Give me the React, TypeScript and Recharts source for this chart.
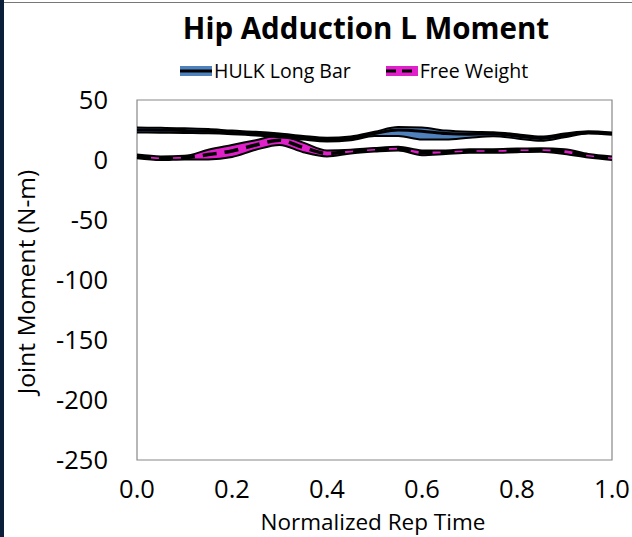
import React from 'react';
import { ComposedChart, Area, Line, XAxis, YAxis, ReferenceArea } from 'recharts';

const timePoints = [0, 0.05, 0.1, 0.15, 0.2, 0.25, 0.3, 0.35, 0.4, 0.45, 0.5, 0.55, 0.6, 0.65, 0.7, 0.75, 0.8, 0.85, 0.9, 0.95, 1.0];

const hulkMean = [25, 24.8, 24.5, 24, 23, 22, 20.5, 18.5, 17, 18, 22, 25, 24, 22, 21.5, 21.7, 20, 18, 20.5, 23, 22];
const hulkUpSpread = [2, 2, 2, 1.8, 1.5, 1.5, 1.5, 1.5, 1.5, 1.5, 1.5, 2.5, 3, 2.5, 2, 1.5, 1.5, 1.5, 1.5, 1, 1];
const hulkLowSpread = [2, 2, 2, 1.8, 1.5, 1.5, 1.5, 1.5, 1.5, 1.5, 2, 5, 7, 5, 3, 2, 2, 2, 1.5, 1, 1];

const freeMean = [3, 1.5, 2, 4.5, 7.5, 12.5, 16.5, 10.5, 5.5, 7, 8.5, 9.5, 6, 6.5, 7.5, 7.5, 8, 8.3, 7, 3.5, 1.5];
const freeSpread = [1.5, 1.5, 1.5, 4, 5, 4, 4, 4, 2.5, 1.5, 1.5, 1.5, 2, 1.5, 1.5, 1.5, 1.5, 1.5, 2, 1.5, 1.5];

const xTicks = [0, 0.2, 0.4, 0.6, 0.8, 1.0];
const yTicks = [50, 0, -50, -100, -150, -200, -250];

const TITLE = 'Hip Adduction L Moment';
const SERIES_HULK = 'HULK Long Bar';
const SERIES_FREE = 'Free Weight';
const X_LABEL = 'Normalized Rep Time';
const Y_LABEL = 'Joint Moment (N-m)';

const data = timePoints.map((t, i) => ({
  t,
  hMean: hulkMean[i],
  hUp: hulkMean[i] + hulkUpSpread[i],
  hLo: hulkMean[i] - hulkLowSpread[i],
  hRange: [hulkMean[i] - hulkLowSpread[i], hulkMean[i] + hulkUpSpread[i]],
  fMean: freeMean[i],
  fUp: freeMean[i] + freeSpread[i],
  fLo: freeMean[i] - freeSpread[i],
  fRange: [freeMean[i] - freeSpread[i], freeMean[i] + freeSpread[i]],
}));

const FONT = '"Open Sans", "Liberation Sans", sans-serif';
const BLUE = '#4f81bd';
const MAGENTA = '#e020c8';

export default function App() {
  return (
    <div style={{ position: 'absolute', left: 0, top: 0, width: 632, height: 537, background: '#fff', overflow: 'hidden', fontFamily: FONT }}>
      <div style={{ position: 'absolute', left: 0, top: 0, width: 4, height: 537, background: '#0b1f3a' }} />
      <div style={{ position: 'absolute', left: 4, top: 2, width: 628, height: 1, background: '#777' }} />
      <div style={{ position: 'absolute', left: 0, top: 8, width: 732, textAlign: 'center', fontSize: 29.5, fontWeight: 700, color: '#000', lineHeight: '40px' }}>
        {TITLE}
      </div>
      <div style={{ position: 'absolute', left: 180, top: 58, display: 'flex', alignItems: 'center', fontSize: 19.5, color: '#000', lineHeight: '26px' }}>
        <svg width={32} height={12} style={{ marginRight: 2 }}>
          <rect x={0} y={1} width={32} height={10} fill={BLUE} />
          <line x1={0} y1={6} x2={32} y2={6} stroke="#000" strokeWidth={3} />
        </svg>
        <span>{SERIES_HULK}</span>
        <svg width={32} height={12} style={{ marginLeft: 35, marginRight: 2 }}>
          <rect x={0} y={1} width={32} height={10} fill={MAGENTA} />
          <line x1={0} y1={6} x2={32} y2={6} stroke="#000" strokeWidth={3} strokeDasharray="10 6" />
        </svg>
        <span>{SERIES_FREE}</span>
      </div>
      <div style={{ position: 'absolute', left: 26, top: 282, width: 0, height: 0 }}>
        <div style={{ position: 'absolute', left: 0, top: 0, transform: 'translate(-50%, -50%) rotate(-90deg)', whiteSpace: 'nowrap', fontSize: 24.5, color: '#000', lineHeight: '30px' }}>
          {Y_LABEL}
        </div>
      </div>
      <div style={{ position: 'absolute', left: 0, top: 507, width: 746, textAlign: 'center', fontSize: 22.5, color: '#000', lineHeight: '30px' }}>
        {X_LABEL}
      </div>
      <div style={{ position: 'absolute', left: 0, top: 0 }}>
        <ComposedChart width={632} height={537} data={data} margin={{ top: 100, right: 20, bottom: 0, left: 0 }}>
          <XAxis
            xAxisId="x"
            dataKey="t"
            type="number"
            domain={[0, 1]}
            ticks={xTicks}
            tickFormatter={(v: number) => v.toFixed(1)}
            axisLine={false}
            tickLine={false}
            tickSize={0}
            tickMargin={20}
            height={77}
            tick={{ fontSize: 25.5, fill: '#000', fontFamily: FONT }}
            interval={0}
          />
          <YAxis
            yAxisId="y"
            type="number"
            domain={[-250, 50]}
            ticks={yTicks}
            axisLine={false}
            tickLine={false}
            tickSize={0}
            tickMargin={29}
            width={137}
            tick={{ fontSize: 25.5, fill: '#000', fontFamily: FONT }}
            interval={0}
          />
          <YAxis
            yAxisId="m"
            type="number"
            domain={[-250, 50]}
            ticks={yTicks}
            mirror
            axisLine={false}
            tickLine={{ stroke: '#888', strokeWidth: 1 }}
            tickSize={4}
            tickFormatter={() => ''}
            width={0}
            interval={0}
          />
          <ReferenceArea xAxisId="x" yAxisId="y" x1={0} x2={1} y1={-250} y2={50} fill="none" stroke="#888" strokeWidth={1.2} ifOverflow="visible" />
          <Area xAxisId="x" yAxisId="y" type="monotone" dataKey="hRange" fill={BLUE} fillOpacity={1} stroke="none" isAnimationActive={false} />
          <Line xAxisId="x" yAxisId="y" type="monotone" dataKey="hUp" stroke="#000" strokeWidth={2} dot={false} isAnimationActive={false} />
          <Line xAxisId="x" yAxisId="y" type="monotone" dataKey="hLo" stroke="#000" strokeWidth={2} dot={false} isAnimationActive={false} />
          <Line xAxisId="x" yAxisId="y" type="monotone" dataKey="hMean" stroke="#000" strokeWidth={3} dot={false} isAnimationActive={false} />
          <Area xAxisId="x" yAxisId="y" type="monotone" dataKey="fRange" fill={MAGENTA} fillOpacity={1} stroke="none" isAnimationActive={false} />
          <Line xAxisId="x" yAxisId="y" type="monotone" dataKey="fUp" stroke="#000" strokeWidth={2} dot={false} isAnimationActive={false} />
          <Line xAxisId="x" yAxisId="y" type="monotone" dataKey="fLo" stroke="#000" strokeWidth={2} dot={false} isAnimationActive={false} />
          <Line xAxisId="x" yAxisId="y" type="monotone" dataKey="fMean" stroke="#000" strokeWidth={3.5} strokeDasharray="14 8" dot={false} isAnimationActive={false} />
        </ComposedChart>
      </div>
    </div>
  );
}
